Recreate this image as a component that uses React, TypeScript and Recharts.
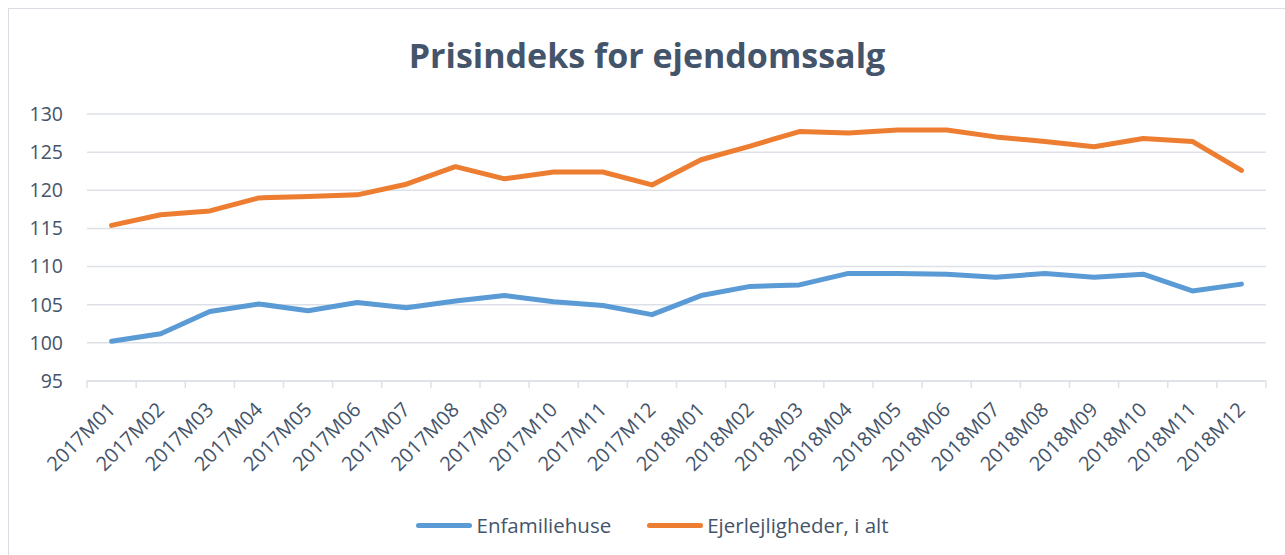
import { LineChart, Line, XAxis, YAxis, CartesianGrid, Legend } from "recharts";

const months = [
  "2017M01", "2017M02", "2017M03", "2017M04", "2017M05", "2017M06",
  "2017M07", "2017M08", "2017M09", "2017M10", "2017M11", "2017M12",
  "2018M01", "2018M02", "2018M03", "2018M04", "2018M05", "2018M06",
  "2018M07", "2018M08", "2018M09", "2018M10", "2018M11", "2018M12",
];

const enfamiliehuse = [
  100.2, 101.2, 104.1, 105.1, 104.2, 105.3, 104.6, 105.5, 106.2, 105.4, 104.9, 103.7,
  106.2, 107.4, 107.6, 109.1, 109.1, 109.0, 108.6, 109.1, 108.6, 109.0, 106.8, 107.7,
];

const ejerlejligheder = [
  115.4, 116.8, 117.3, 119.0, 119.2, 119.4, 120.8, 123.1, 121.5, 122.4, 122.4, 120.7,
  124.0, 125.8, 127.7, 127.5, 127.9, 127.9, 127.0, 126.4, 125.7, 126.8, 126.4, 122.6,
];

const seriesNames = ["Enfamiliehuse", "Ejerlejligheder, i alt"];
const yTicks = [95, 100, 105, 110, 115, 120, 125, 130];

const data = months.map((m, i) => ({
  month: m,
  [seriesNames[0]]: enfamiliehuse[i],
  [seriesNames[1]]: ejerlejligheder[i],
}));

const W = 1276;
const H = 546;
const margin = { top: 105, right: 19, bottom: 20, left: 8 };
const yAxisWidth = 70;
const plotWidth = W - margin.left - margin.right - yAxisWidth;
const half = plotWidth / months.length / 2;

const textColor = "#44546a";
const gridColor = "#dde1e7";
const font = "'Open Sans', Lato, sans-serif";

function MonthTick(props: any) {
  const { x, y, payload, index } = props;
  const ax = x + 5;
  const ay = y + 30;
  return (
    <g>
      <line x1={x - half} y1={y} x2={x - half} y2={y + 7} stroke={gridColor} strokeWidth={1.5} />
      {index === months.length - 1 && (
        <line x1={x + half} y1={y} x2={x + half} y2={y + 7} stroke={gridColor} strokeWidth={1.5} />
      )}
      <text
        x={ax}
        y={ay}
        textAnchor="end"
        fill={textColor}
        fontSize={20}
        fontFamily={font}
        transform={`rotate(-45, ${ax}, ${ay})`}
      >
        {payload.value}
      </text>
    </g>
  );
}

function renderLegend(props: any) {
  const payload = [...(props.payload || [])].sort(
    (a: any, b: any) => seriesNames.indexOf(a.value) - seriesNames.indexOf(b.value)
  );
  return (
    <div style={{ display: "flex", justifyContent: "center", alignItems: "center", paddingLeft: 58 }}>
      {payload.map((entry: any) => (
        <div key={entry.value} style={{ display: "flex", alignItems: "center", marginRight: 36 }}>
          <div style={{ width: 56, height: 5, borderRadius: 3, background: entry.color, marginRight: 4 }} />
          <span style={{ fontFamily: font, fontSize: 20.5, color: textColor }}>{entry.value}</span>
        </div>
      ))}
    </div>
  );
}

export default function App() {
  return (
    <div
      style={{
        position: "fixed",
        left: 8,
        top: 8,
        width: 1276,
        height: 547,
        borderLeft: "1px solid #d9dde3",
        borderTop: "1px solid #d9dde3",
        background: "#fff",
      }}
    >
      <div
        style={{
          position: "absolute",
          top: 24,
          left: 0,
          width: 1276,
          textAlign: "center",
          fontFamily: font,
          fontWeight: 700,
          fontSize: 34,
          lineHeight: "44px",
          color: textColor,
        }}
      >
        Prisindeks for ejendomssalg
      </div>
      <LineChart width={W} height={H} data={data} margin={margin}>
        <CartesianGrid vertical={false} stroke={gridColor} strokeWidth={1.5} />
        <XAxis
          dataKey="month"
          interval={0}
          padding={{ left: half, right: half }}
          height={130}
          tickSize={0}
          tickMargin={0}
          tickLine={false}
          axisLine={{ stroke: gridColor, strokeWidth: 1.5 }}
          tick={<MonthTick />}
        />
        <YAxis
          domain={[95, 130]}
          ticks={yTicks}
          width={yAxisWidth}
          axisLine={false}
          tickLine={false}
          tickSize={0}
          tickMargin={24}
          tick={{ fill: textColor, fontSize: 19.5, fontFamily: font }}
        />
        <Legend verticalAlign="bottom" height={24} content={renderLegend} />
        <Line
          dataKey={seriesNames[0]}
          stroke="#5b9bd5"
          strokeWidth={5}
          dot={false}
          strokeLinecap="round"
          strokeLinejoin="round"
          isAnimationActive={false}
        />
        <Line
          dataKey={seriesNames[1]}
          stroke="#ed7d31"
          strokeWidth={5}
          dot={false}
          strokeLinecap="round"
          strokeLinejoin="round"
          isAnimationActive={false}
        />
      </LineChart>
    </div>
  );
}
